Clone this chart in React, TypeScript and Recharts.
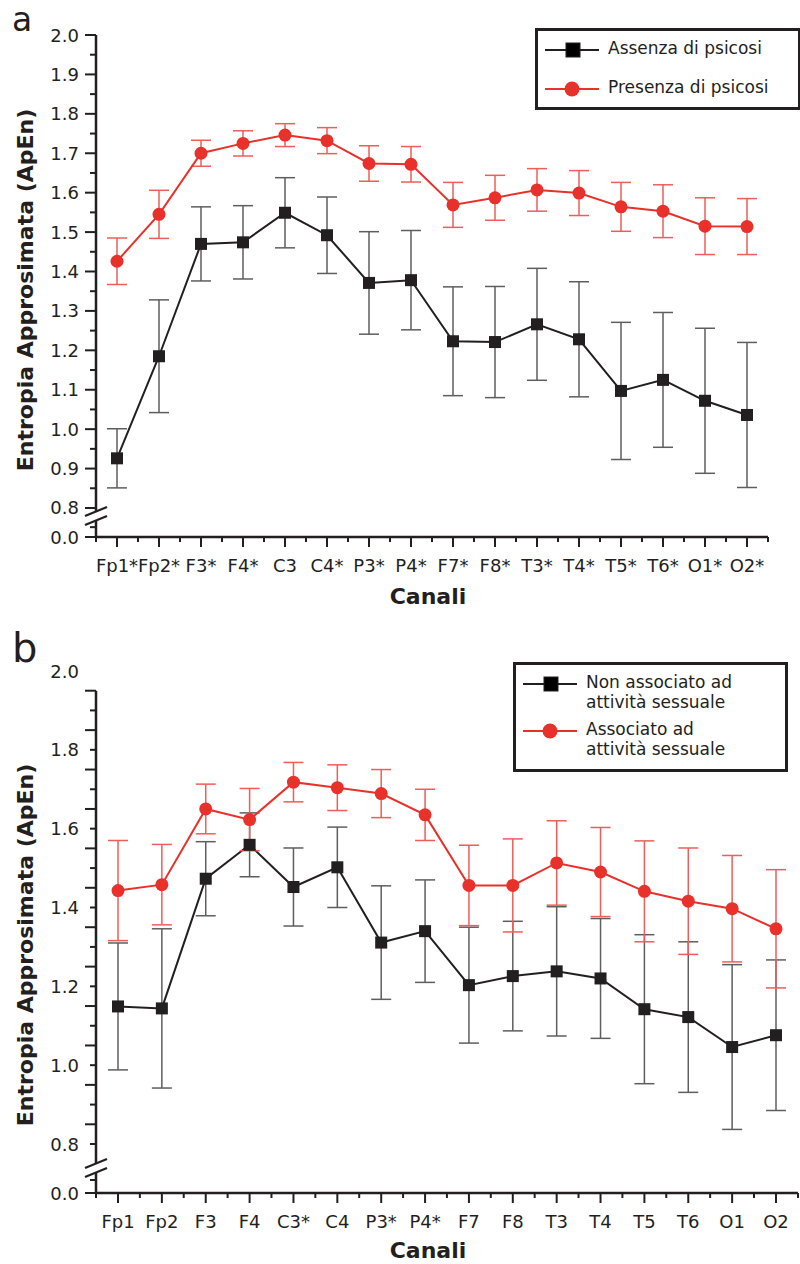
import React from 'react';
import { LineChart, Line, XAxis, YAxis, ErrorBar, Legend } from 'recharts';

// ── Data ─────────────────────────────────────────────────────────────────────

const canaliA = ['Fp1*', 'Fp2*', 'F3*', 'F4*', 'C3', 'C4*', 'P3*', 'P4*', 'F7*', 'F8*', 'T3*', 'T4*', 'T5*', 'T6*', 'O1*', 'O2*'];
const assenzaMean = [0.926, 1.185, 1.470, 1.474, 1.549, 1.492, 1.371, 1.378, 1.223, 1.221, 1.266, 1.228, 1.097, 1.125, 1.072, 1.036];
const assenzaErr = [0.075, 0.143, 0.094, 0.093, 0.089, 0.097, 0.130, 0.126, 0.138, 0.141, 0.142, 0.146, 0.174, 0.171, 0.184, 0.184];
const presenzaMean = [1.426, 1.545, 1.700, 1.725, 1.746, 1.732, 1.674, 1.672, 1.569, 1.587, 1.607, 1.599, 1.564, 1.553, 1.515, 1.514];
const presenzaErr = [0.059, 0.061, 0.033, 0.032, 0.029, 0.033, 0.045, 0.045, 0.057, 0.057, 0.054, 0.057, 0.062, 0.067, 0.072, 0.071];

const canaliB = ['Fp1', 'Fp2', 'F3', 'F4', 'C3*', 'C4', 'P3*', 'P4*', 'F7', 'F8', 'T3', 'T4', 'T5', 'T6', 'O1', 'O2'];
const nonAssocMean = [1.149, 1.144, 1.473, 1.559, 1.452, 1.502, 1.311, 1.340, 1.203, 1.226, 1.238, 1.220, 1.142, 1.122, 1.046, 1.076];
const nonAssocErr = [0.161, 0.202, 0.094, 0.081, 0.099, 0.102, 0.144, 0.130, 0.147, 0.139, 0.164, 0.152, 0.189, 0.191, 0.209, 0.191];
const assocMean = [1.443, 1.458, 1.650, 1.623, 1.718, 1.704, 1.689, 1.635, 1.456, 1.456, 1.513, 1.490, 1.441, 1.416, 1.397, 1.346];
const assocErr = [0.127, 0.102, 0.063, 0.079, 0.050, 0.058, 0.061, 0.065, 0.102, 0.118, 0.107, 0.113, 0.128, 0.135, 0.135, 0.150];

const yLabelsA = ['0.8', '0.9', '1.0', '1.1', '1.2', '1.3', '1.4', '1.5', '1.6', '1.7', '1.8', '1.9', '2.0'];
const yLabelsB = ['0.8', '1.0', '1.2', '1.4', '1.6', '1.8', '2.0'];

const legendA = [['Assenza di psicosi'], ['Presenza di psicosi']];
const legendB = [['Non associato ad', 'attività sessuale'], ['Associato ad', 'attività sessuale']];

// ── Style ────────────────────────────────────────────────────────────────────

const FONT = '"DejaVu Sans", "Noto Sans", sans-serif';
const INK = '#231f20';
const RED = '#e8312b';
const INK_ERR = '#5e5e5e';
const RED_ERR = '#ef5d58';

// bottom of the broken axis (drawn as 0.0)
const BOTTOM_A = 0.7264;
const BOTTOM_B = 0.6757;
const PX_B = 522 / (2.0 - BOTTOM_B);

const near = (a: number, b: number) => Math.abs(a - b) < 1e-4;

const dataA = canaliA.map((c, i) => ({
  canale: c,
  assenza: assenzaMean[i],
  assenzaErr: assenzaErr[i],
  presenza: presenzaMean[i],
  presenzaErr: presenzaErr[i],
}));

const dataB = canaliB.map((c, i) => ({
  canale: c,
  nonAssoc: nonAssocMean[i],
  nonAssocErr: nonAssocErr[i],
  assoc: assocMean[i],
  assocErr: assocErr[i],
}));

const ticksA: number[] = [BOTTOM_A, BOTTOM_A + 0.025];
yLabelsA.forEach((l, i) => {
  ticksA.push(Number(l));
  if (i < yLabelsA.length - 1) ticksA.push(Number(l) + 0.05);
});

const ticksB: number[] = [BOTTOM_B, BOTTOM_B + 0.033];
for (let i = 0; i <= 23; i++) ticksB.push(Math.round((0.8 + 0.05 * i) * 100) / 100);
ticksB.push(2.0);

// ── Axis pieces ──────────────────────────────────────────────────────────────

function BreakMarks({ x, cy }: { x: number; cy: number }) {
  return (
    <g>
      <polygon points={`${x - 11},${cy + 1} ${x + 11},${cy - 8} ${x + 11},${cy + 1} ${x - 11},${cy + 10}`} fill="#fff" />
      <line x1={x - 11} y1={cy + 1} x2={x + 11} y2={cy - 8} stroke={INK} strokeWidth={2.2} />
      <line x1={x - 11} y1={cy + 10} x2={x + 11} y2={cy + 1} stroke={INK} strokeWidth={2.2} />
    </g>
  );
}

function tickText(x: number, y: number, s: string) {
  return (
    <text x={x - 17} y={y} textAnchor="end" dominantBaseline="central" fontSize={18} fontFamily={FONT} fill={INK}>
      {s}
    </text>
  );
}

function YTickA(props: any) {
  const { x, y, payload } = props;
  const v = payload.value;
  const bottom = near(v, BOTTOM_A);
  const label = bottom ? '0.0' : yLabelsA.find((l) => near(Number(l), v));
  const len = label ? 11 : 6;
  return (
    <g>
      <line x1={x - len} y1={y} x2={x} y2={y} stroke={INK} strokeWidth={2} />
      {label && tickText(x, y, label)}
      {bottom && <BreakMarks x={x} cy={y - 22} />}
    </g>
  );
}

function YTickB(props: any) {
  const { x, y, payload } = props;
  const v = payload.value;
  if (near(v, 2.0)) return tickText(x, y, '2.0');
  const bottom = near(v, BOTTOM_B);
  const label = bottom ? '0.0' : yLabelsB.find((l) => near(Number(l), v));
  const step = Math.round((1.95 - v) / 0.05);
  const len = bottom || (v >= 0.8 && step % 2 === 0) ? 11 : 6;
  return (
    <g>
      {bottom && <line x1={x} y1={y} x2={x} y2={y - (1.95 - BOTTOM_B) * PX_B} stroke={INK} strokeWidth={2.5} />}
      <line x1={x - len} y1={y} x2={x} y2={y} stroke={INK} strokeWidth={2} />
      {label && tickText(x, y, label)}
      {bottom && <BreakMarks x={x} cy={y - 26} />}
    </g>
  );
}

function makeXTick(half: number, count: number) {
  return function XTick(props: any) {
    const { x, y, payload, index } = props;
    return (
      <g>
        <line x1={x} y1={y} x2={x} y2={y + 10} stroke={INK} strokeWidth={2} />
        <line x1={x - half} y1={y} x2={x - half} y2={y + 5} stroke={INK} strokeWidth={2} />
        {index === count - 1 && <line x1={x + half} y1={y} x2={x + half} y2={y + 5} stroke={INK} strokeWidth={2} />}
        <text x={x} y={y + 28} textAnchor="middle" dominantBaseline="central" fontSize={18} fontFamily={FONT} fill={INK}>
          {payload.value}
        </text>
      </g>
    );
  };
}

function YTitle({ cy, letter, letterY, letterSize }: any) {
  return (
    <g>
      <text
        x={25}
        y={cy}
        transform={`rotate(-90 25 ${cy})`}
        textAnchor="middle"
        dominantBaseline="central"
        fontSize={22}
        fontWeight={700}
        fontFamily={FONT}
        fill={INK}
      >
        Entropia Approsimata (ApEn)
      </text>
      <text x={12} y={letterY} fontSize={letterSize} fontFamily={FONT} fill={INK}>
        {letter}
      </text>
    </g>
  );
}

function XTitle({ cy }: any) {
  return (
    <text x={428} y={cy} textAnchor="middle" dominantBaseline="central" fontSize={22} fontWeight={700} fontFamily={FONT} fill={INK}>
      Canali
    </text>
  );
}

const squareDot = (props: any) => {
  const { cx, cy, index } = props;
  return <rect key={`sq-${index}`} x={cx - 6} y={cy - 6} width={12} height={12} fill={INK} />;
};

function LegendBox({ items, width, height, rowGap }: any) {
  return (
    <div
      style={{
        width,
        height,
        boxSizing: 'border-box',
        border: `3px solid ${INK}`,
        background: '#fff',
        fontFamily: FONT,
        fontSize: 17,
        color: INK,
        padding: '7px 0 0 7px',
      }}
    >
      {items.map((lines: string[], i: number) => (
        <div key={i} style={{ display: 'flex', alignItems: 'flex-start', height: rowGap }}>
          <svg width={54} height={20} style={{ flex: 'none', marginTop: 1 }}>
            <line x1={0} y1={11} x2={54} y2={11} stroke={i === 0 ? INK : RED} strokeWidth={2} />
            {i === 0 ? (
              <rect x={21} y={4} width={14} height={14} fill="#000" stroke={INK} strokeWidth={1} />
            ) : (
              <circle cx={27} cy={11} r={7.5} fill={RED} />
            )}
          </svg>
          <div style={{ marginLeft: 9, lineHeight: '20px', whiteSpace: 'nowrap' }}>
            {lines.map((l) => (
              <div key={l}>{l}</div>
            ))}
          </div>
        </div>
      ))}
    </div>
  );
}

// ── App ──────────────────────────────────────────────────────────────────────

export default function App() {
  return (
    <div style={{ position: 'absolute', left: 0, top: 0, width: 800, height: 1264, background: '#fff' }}>
      <div style={{ position: 'absolute', left: 0, top: 0 }}>
        <LineChart width={800} height={620} data={dataA} margin={{ top: 35, right: 32, left: 0, bottom: 0 }}>
          <XAxis
            dataKey="canale"
            height={83}
            padding={{ left: 21, right: 21 }}
            interval={0}
            tickLine={false}
            tickSize={0}
            tickMargin={0}
            tick={makeXTick(21, canaliA.length)}
            axisLine={{ stroke: INK, strokeWidth: 2.5 }}
            label={<XTitle cy={596} />}
          />
          <YAxis
            type="number"
            width={96}
            domain={[BOTTOM_A, 2.0]}
            ticks={ticksA}
            interval={0}
            allowDataOverflow
            tickLine={false}
            tickSize={0}
            tickMargin={0}
            tick={YTickA}
            axisLine={{ stroke: INK, strokeWidth: 2.5 }}
            label={<YTitle cy={290} letter="a" letterY={31} letterSize={33} />}
          />
          <Legend
            layout="vertical"
            align="center"
            verticalAlign="middle"
            wrapperStyle={{ left: 535, top: 28, width: 266 }}
            content={() => <LegendBox items={legendA} width={266} height={82} rowGap={39} />}
          />
          <Line
            name="Assenza di psicosi"
            dataKey="assenza"
            stroke={INK}
            strokeWidth={2}
            dot={squareDot}
            activeDot={false}
            isAnimationActive={false}
          >
            <ErrorBar dataKey="assenzaErr" width={10} stroke={INK_ERR} strokeWidth={1.5} direction="y" />
          </Line>
          <Line
            name="Presenza di psicosi"
            dataKey="presenza"
            stroke={RED}
            strokeWidth={2}
            dot={{ r: 6.5, fill: RED, stroke: RED, strokeWidth: 0 }}
            activeDot={false}
            isAnimationActive={false}
          >
            <ErrorBar dataKey="presenzaErr" width={10} stroke={RED_ERR} strokeWidth={1.5} direction="y" />
          </Line>
        </LineChart>
      </div>

      <div style={{ position: 'absolute', left: 0, top: 620 }}>
        <LineChart width={800} height={644} data={dataB} margin={{ top: 51, right: 2, left: 0, bottom: 0 }}>
          <XAxis
            dataKey="canale"
            height={71}
            padding={{ left: 22, right: 22 }}
            interval={0}
            tickLine={false}
            tickSize={0}
            tickMargin={0}
            tick={makeXTick(22, canaliB.length)}
            axisLine={{ stroke: INK, strokeWidth: 2.5 }}
            label={<XTitle cy={630} />}
          />
          <YAxis
            type="number"
            width={96}
            domain={[BOTTOM_B, 2.0]}
            ticks={ticksB}
            interval={0}
            allowDataOverflow
            tickLine={false}
            tickSize={0}
            tickMargin={0}
            tick={YTickB}
            axisLine={false}
            label={<YTitle cy={325} letter="b" letterY={42} letterSize={40} />}
          />
          <Legend
            layout="vertical"
            align="center"
            verticalAlign="middle"
            wrapperStyle={{ left: 513, top: 42, width: 275 }}
            content={() => <LegendBox items={legendB} width={275} height={110} rowGap={47} />}
          />
          <Line
            name="Non associato ad attività sessuale"
            dataKey="nonAssoc"
            stroke={INK}
            strokeWidth={2}
            dot={squareDot}
            activeDot={false}
            isAnimationActive={false}
          >
            <ErrorBar dataKey="nonAssocErr" width={10} stroke={INK_ERR} strokeWidth={1.5} direction="y" />
          </Line>
          <Line
            name="Associato ad attività sessuale"
            dataKey="assoc"
            stroke={RED}
            strokeWidth={2}
            dot={{ r: 6.5, fill: RED, stroke: RED, strokeWidth: 0 }}
            activeDot={false}
            isAnimationActive={false}
          >
            <ErrorBar dataKey="assocErr" width={10} stroke={RED_ERR} strokeWidth={1.5} direction="y" />
          </Line>
        </LineChart>
      </div>
    </div>
  );
}
